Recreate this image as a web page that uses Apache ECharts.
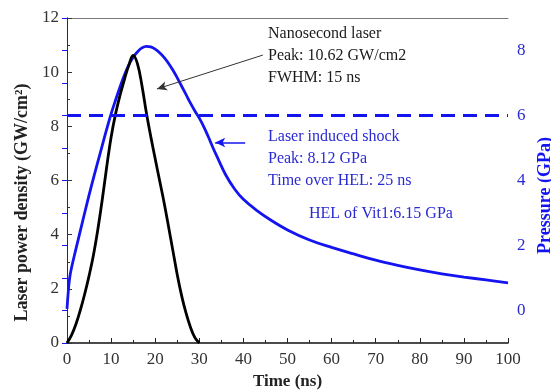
<!DOCTYPE html>
<html>
<head>
<meta charset="utf-8">
<script src="https://cdn.jsdelivr.net/npm/echarts@6/dist/echarts.min.js"></script>
<style>
  html, body { margin: 0; padding: 0; background: #fff; }
  #chart { width: 551px; height: 391px; }
</style>
</head>
<body>
<div id="chart"></div>
<script>
// laser pulse (left axis, GW/cm2)
const laserTime = [0, 1, 2, 3, 4, 5, 6, 7, 8, 9, 10, 11, 12, 13, 14, 15, 16, 17, 18, 19, 20, 21, 22, 23, 24, 25, 26, 27, 28, 29, 30];
const laserPower = [0, 0.28, 0.68, 1.2, 1.8, 2.48, 3.25, 4.2, 5.3, 6.5, 7.6, 8.45, 9.13, 9.72, 10.25, 10.62, 10.3, 9.5, 8.5, 7.62, 6.8, 6.0, 5.2, 4.32, 3.42, 2.52, 1.74, 1.1, 0.58, 0.2, 0];

// shock pressure (right axis, GPa)
const shockTime = [0, 0.3, 0.6, 1, 2, 3, 4, 5, 6, 7, 8, 9, 10, 11, 12, 13, 14, 15, 16, 17, 18, 19, 20, 21, 22, 23, 24, 25, 26, 27, 28, 29, 30, 31, 32, 33, 34, 36, 38, 40, 43, 46, 50, 55, 60, 65, 70, 75, 80, 85, 90, 95, 100];
const shockPressure = [0.05, 0.6, 1.0, 1.3, 1.88, 2.44, 3.0, 3.55, 4.07, 4.58, 5.08, 5.58, 6.05, 6.47, 6.87, 7.24, 7.55, 7.79, 7.96, 8.08, 8.13, 8.11, 8.04, 7.93, 7.79, 7.61, 7.4, 7.16, 6.9, 6.64, 6.38, 6.14, 5.92, 5.66, 5.36, 5.04, 4.74, 4.17, 3.74, 3.42, 3.08, 2.8, 2.48, 2.17, 1.94, 1.74, 1.55, 1.39, 1.25, 1.13, 1.03, 0.94, 0.85];

const helLine = 6.0;

const xTicks = { min: 0, max: 100, interval: 10 };
const leftTicks = { min: 0, max: 12, interval: 2 };
const rightTicks = { min: -1, max: 9, interval: 1 };

const BLUE = "#1414f0";
const BLUE_TEXT = "#2a2ad2";
const SERIF = "'Liberation Serif', 'DejaVu Serif', serif";

function zip(xs, ys) {
  return xs.map((x, i) => [x, ys[i]]);
}

const chart = echarts.init(document.getElementById("chart"), null, { renderer: "canvas" });

chart.setOption({
  animation: false,
  grid: { left: 67, right: 43, top: 18, bottom: 48, outerBoundsMode: "none", containLabel: false },
  xAxis: [
    {
      type: "value",
      ...xTicks,
      name: "Time (ns)",
      nameLocation: "middle",
      nameGap: 30,
      nameTextStyle: { fontFamily: SERIF, fontSize: 17, fontWeight: "bold", color: "#222" },
      axisLine: { lineStyle: { color: "#111", width: 1.5 } },
      axisTick: { inside: true, length: 5, lineStyle: { color: "#222" } },
      minorTick: { show: true, splitNumber: 2, length: 3, lineStyle: { color: "#222" } },
      axisLabel: { fontFamily: SERIF, fontSize: 17, color: "#333", margin: 8 },
      splitLine: { show: false },
    },
    {
      type: "value",
      ...xTicks,
      position: "top",
      axisLine: { show: true, onZero: false, lineStyle: { color: "#777", width: 1 } },
      axisTick: { show: false },
      axisLabel: { show: false },
      splitLine: { show: false },
    },
  ],
  yAxis: [
    {
      type: "value",
      ...leftTicks,
      position: "left",
      name: "Laser power density (GW/cm²)",
      nameLocation: "middle",
      nameRotate: 90,
      nameGap: 30,
      nameTextStyle: { fontFamily: SERIF, fontSize: 18, fontWeight: "bold", color: "#222", padding: [0, 44, 0, 0] },
      axisLine: { show: true, lineStyle: { color: "#555", width: 1 } },
      axisTick: { inside: true, length: 5, lineStyle: { color: "#333" } },
      minorTick: { show: true, splitNumber: 2, length: 3, lineStyle: { color: "#333" } },
      axisLabel: { fontFamily: SERIF, fontSize: 17, color: "#333", margin: 8 },
      splitLine: { show: false },
    },
    {
      type: "value",
      ...rightTicks,
      position: "right",
      name: "Pressure (GPa)",
      nameLocation: "middle",
      nameRotate: 90,
      nameGap: 25,
      nameTextStyle: { fontFamily: SERIF, fontSize: 18, fontWeight: "bold", color: BLUE, padding: [0, 30, 0, 0] },
      axisLine: { show: true, lineStyle: { color: BLUE, width: 1 } },
      axisTick: { inside: true, length: 5, lineStyle: { color: BLUE } },
      axisLabel: {
        fontFamily: SERIF,
        fontSize: 17,
        color: BLUE_TEXT,
        margin: 9,
        formatter: (v) => (v % 2 === 0 ? String(v) : ""),
      },
      splitLine: { show: false },
    },
  ],
  series: [
    {
      name: "Nanosecond laser",
      type: "line",
      yAxisIndex: 0,
      data: zip(laserTime, laserPower),
      smooth: 0.4,
      symbol: "none",
      lineStyle: { color: "#000", width: 2.8 },
      markLine: {
        silent: true,
        symbol: ["none", "arrow"],
        symbolSize: [7, 10],
        label: { show: false },
        lineStyle: { color: "#333", width: 1, type: "solid" },
        data: [[{ coord: [44.4, 10.63] }, { coord: [20.4, 9.38] }]],
      },
      z: 3,
    },
    {
      name: "Laser induced shock",
      type: "line",
      yAxisIndex: 1,
      data: zip(shockTime, shockPressure),
      smooth: 0.4,
      symbol: "none",
      lineStyle: { color: BLUE, width: 2.8 },
      markLine: {
        silent: true,
        symbol: ["none", "none"],
        label: { show: false },
        data: [
          { yAxis: helLine, lineStyle: { color: BLUE, width: 3, type: [14, 8] } },
          [
            { coord: [40.4, 5.17], lineStyle: { color: BLUE, width: 1.5, type: "solid" }, symbol: "none" },
            { coord: [33.6, 5.17], symbol: "arrow", symbolSize: [7, 10] },
          ],
        ],
      },
      z: 2,
    },
  ],
  graphic: [
    {
      type: "text",
      left: 268,
      top: 23,
      style: {
        text: "Nanosecond laser\nPeak: 10.62 GW/cm2\nFWHM: 15 ns",
        font: "16px " + SERIF,
        fill: "#1a1a1a",
        lineHeight: 22,
      },
    },
    {
      type: "text",
      left: 268,
      top: 126,
      style: {
        text: "Laser induced shock\nPeak: 8.12 GPa\nTime over HEL: 25 ns",
        font: "16px " + SERIF,
        fill: BLUE_TEXT,
        lineHeight: 22,
      },
    },
    {
      type: "text",
      left: 309,
      top: 206,
      style: {
        text: "HEL of Vit1:6.15 GPa",
        font: "16px " + SERIF,
        fill: BLUE_TEXT,
      },
    },
  ],
});
</script>
</body>
</html>
